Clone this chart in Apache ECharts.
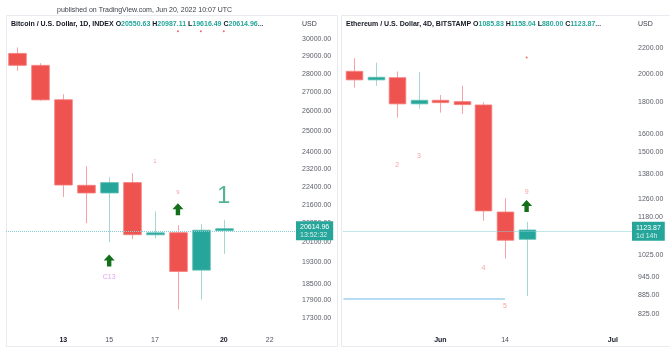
<!DOCTYPE html>
<html>
<head>
<meta charset="utf-8">
<script src="https://cdn.jsdelivr.net/npm/echarts/dist/echarts.min.js"></script>
<style>
  html, body { margin: 0; padding: 0; background: #ffffff; }
  #chart { width: 670px; height: 349px; }
</style>
</head>
<body>
<div id="chart"></div>
<script>
// ---- Bitcoin, daily candles (Jun 11 – Jun 20, 2022) ----
const btcDates  = ['11', '12', '13', '14', '15', '16', '17', '18', '19', '20'];
const btcOpen   = [29160, 28480, 26610, 22470, 22130, 22590, 20380, 20460, 19000, 20550.63];
const btcHigh   = [29510, 28600, 26900, 23330, 22830, 23010, 21340, 20760, 20810, 20987.11];
const btcLow    = [28170, 26560, 21950, 20850, 20080, 20200, 20230, 17580, 17930, 19616.49];
const btcClose  = [28480, 26600, 22480, 22130, 22590, 20380, 20450, 18950, 20560, 20614.96];
const btcTickIdx  = [2, 4, 6, 9, 11];
const btcTickText = ['13', '15', '17', '20', '22'];
const btcTickBold = [true, false, false, true, false];
const btcPriceTicks = [30000, 29000, 28000, 27000, 26000, 25000, 24000, 23200, 22400,
                       21600, 20850, 20100, 19300, 18500, 17900, 17300];
const btcCountdown  = '13:52:32';
// sequential-count annotations
const btcCountIdx   = [6, 7];
const btcCountLevel = [23560, 22160];
const btcCountText  = ['1', '9'];
const btcSignalIdx   = [9];
const btcSignalLevel = [22000];
const btcSignalText  = ['1'];
const btcArrowIdx   = [7, 4];
const btcArrowLevel = [21430, 19370];
const btcSetupIdx   = [4];
const btcSetupLevel = [18760];
const btcSetupText  = ['C13'];
const btcDotIdx   = [7, 8, 9];
const btcDotLevel = [30460, 30460, 30460];

// ---- Ethereum, 4-day candles (May 17 – Jun 18, 2022) ----
const ethDates  = ['May 17', 'May 21', 'May 25', 'May 29', 'Jun 2', 'Jun 6', 'Jun 10', 'Jun 14', 'Jun 18'];
const ethOpen   = [2020, 1957, 1973, 1791, 1815, 1806, 1784, 1201, 1085.83];
const ethHigh   = [2120, 2086, 2018, 2016, 1851, 1916, 1802, 1264, 1158.04];
const ethLow    = [1902, 1914, 1702, 1760, 1734, 1726, 1163, 1011, 880.00];
const ethClose  = [1957, 1976, 1791, 1815, 1799, 1786, 1206, 1082, 1123.87];
const ethTickIdx  = [4, 7, 12];
const ethTickText = ['Jun', '14', 'Jul'];
const ethTickBold = [true, false, true];
const ethPriceTicks = [2200, 2000, 1800, 1600, 1500, 1380, 1260, 1180, 1025, 945, 885, 825];
const ethCountdown  = '1d 14h';
const ethCountIdx   = [2, 3, 6, 7, 8];
const ethCountLevel = [1428, 1476, 975, 848, 1295];
const ethCountText  = ['2', '3', '4', '5', '9'];
const ethArrowIdx   = [8];
const ethArrowLevel = [1228];
const ethDotIdx   = [8];
const ethDotLevel = [2125];
const ethSupportLevel = 871;
const ethSupportEnd   = 7;

// ---- styling ----
const FONT = "'Liberation Sans', Arial, sans-serif";
const UP = '#26a69a', DOWN = '#ef5350';
const UP_WICK = '#a3d8d3', DOWN_WICK = '#f6a3a2';
const ARROW = '#136f19';
const ARROW_PATH = 'path://M5,0 L10,5.5 L7,5.5 L7,11 L3,11 L3,5.5 L0,5.5 Z';

const LN = Math.log;

function candleSeries(ax, opens, highs, lows, closes, countdown) {
  const last = closes.length - 1;
  return {
    type: 'custom',
    xAxisIndex: ax, yAxisIndex: ax,
    z: 3,
    data: opens.map((o, i) => [i, LN(o), LN(closes[i]), LN(lows[i]), LN(highs[i])]),
    renderItem: function (params, api) {
      const i = api.value(0);
      const po = api.coord([i, api.value(1)]);
      const pc = api.coord([i, api.value(2)]);
      const pl = api.coord([i, api.value(3)]);
      const ph = api.coord([i, api.value(4)]);
      const up = api.value(2) >= api.value(1);
      const bw = api.size([1, 0])[0] * 0.77;
      const xc = Math.round(po[0]) + 0.5;
      let top = Math.min(po[1], pc[1]);
      let h = Math.abs(po[1] - pc[1]);
      if (h < 2) { top = (po[1] + pc[1]) / 2 - 1; h = 2; }
      return {
        type: 'group',
        children: [
          { type: 'line', shape: { x1: xc, y1: ph[1], x2: xc, y2: pl[1] },
            style: { stroke: up ? UP_WICK : DOWN_WICK, lineWidth: 1 } },
          { type: 'rect', shape: { x: xc - bw / 2, y: top, width: bw, height: h },
            style: { fill: up ? UP : DOWN, stroke: up ? '#5cbfb5' : '#f47f7c', lineWidth: 0.8 } }
        ]
      };
    },
    markLine: {
      silent: true, animation: false, symbol: ['none', 'none'],
      lineStyle: { color: '#86cdd6', type: [1, 1], width: 1 },
      label: {
        show: true, position: 'end', distance: 0,
        backgroundColor: UP, padding: [2, 4, 1, 4],
        formatter: '{a|' + closes[last].toFixed(2) + '}\n{b|' + countdown + '}',
        rich: {
          a: { color: '#ffffff', fontSize: 7, lineHeight: 8, fontFamily: FONT },
          b: { color: '#d4efec', fontSize: 7, lineHeight: 8, fontFamily: FONT }
        }
      },
      data: [{ yAxis: LN(closes[last]) }]
    }
  };
}

function textMarks(ax, idx, levels, texts, color, size) {
  return {
    type: 'scatter', xAxisIndex: ax, yAxisIndex: ax, z: 4,
    symbolSize: 1, itemStyle: { color: 'rgba(0,0,0,0)' }, silent: true,
    label: { show: true, position: 'inside', color: color, fontSize: size, fontFamily: FONT,
             formatter: p => texts[p.dataIndex] },
    data: idx.map((v, k) => [v, LN(levels[k])])
  };
}

function symbolMarks(ax, idx, levels, symbol, size, color) {
  return {
    type: 'scatter', xAxisIndex: ax, yAxisIndex: ax, z: 4, silent: true,
    symbol: symbol, symbolSize: size, itemStyle: { color: color, opacity: 1 },
    data: idx.map((v, k) => [v, LN(levels[k])])
  };
}

function xAxisFor(grid, max, ticks, texts, bold) {
  return {
    type: 'value', gridIndex: grid, min: -0.5, max: max,
    axisLine: { show: false }, axisTick: { show: false }, splitLine: { show: false },
    axisLabel: {
      customValues: ticks, margin: 7, fontSize: 7, fontFamily: FONT,
      formatter: v => {
        const k = ticks.indexOf(Math.round(v));
        return k < 0 ? '' : (bold[k] ? '{b|' + texts[k] + '}' : '{n|' + texts[k] + '}');
      },
      rich: {
        b: { fontSize: 7, fontWeight: 'bold', color: '#131722', fontFamily: FONT },
        n: { fontSize: 7, color: '#50535e', fontFamily: FONT }
      }
    }
  };
}

function yAxisFor(grid, lo, hi, ticks) {
  return {
    type: 'value', gridIndex: grid, position: 'right', min: LN(lo), max: LN(hi),
    axisLine: { show: false }, axisTick: { show: false }, splitLine: { show: false },
    axisLabel: {
      customValues: ticks.map(LN), margin: 6, fontSize: 7, color: '#5d606b', fontFamily: FONT,
      formatter: v => Math.round(Math.exp(v)).toFixed(2)
    }
  };
}

function ohlcTitle(name, o, h, l, c) {
  return '{t|' + name + '} {k|O}{v|' + o.toFixed(2) + '} {k|H}{v|' + h.toFixed(2) +
         '} {k|L}{v|' + l.toFixed(2) + '} {k|C}{v|' + c.toFixed(2) + '}{e|...}';
}
const titleRich = {
  t: { color: '#131722', fontSize: 7, fontFamily: FONT },
  k: { color: '#131722', fontSize: 7, fontFamily: FONT },
  v: { color: '#26a69a', fontSize: 7, fontFamily: FONT },
  e: { color: '#50535e', fontSize: 7, fontFamily: FONT }
};

const bl = btcClose.length - 1, el = ethClose.length - 1;

// ethereum support level drawn as a segment ending at the breakdown candle
const ethSeries = candleSeries(1, ethOpen, ethHigh, ethLow, ethClose, ethCountdown);
ethSeries.markLine.data.push([
  { coord: [-0.5, LN(ethSupportLevel)], lineStyle: { color: '#b5dcf2', type: 'solid', width: 2 },
    label: { show: false } },
  { coord: [ethSupportEnd, LN(ethSupportLevel)] }
]);

const chart = echarts.init(document.getElementById('chart'), null, { renderer: 'canvas' });
chart.setOption({
  animation: false,
  backgroundColor: '#ffffff',
  title: [
    { text: ohlcTitle('Bitcoin / U.S. Dollar, 1D, INDEX', btcOpen[bl], btcHigh[bl], btcLow[bl], btcClose[bl]),
      left: 11, top: 21, padding: 0, textStyle: { rich: titleRich, fontSize: 7 } },
    { text: ohlcTitle('Ethereum / U.S. Dollar, 4D, BITSTAMP', ethOpen[el], ethHigh[el], ethLow[el], ethClose[el]),
      left: 346, top: 21, padding: 0, textStyle: { rich: titleRich, fontSize: 7 } }
  ],
  graphic: [
    { type: 'text', left: 57, top: 7, z: 10,
      style: { text: 'published on TradingView.com, Jun 20, 2022 10:07 UTC', fill: '#3b3e48',
               font: '7px ' + FONT } },
    { type: 'rect', shape: { x: 6.5, y: 15.5, width: 331, height: 331 },
      style: { fill: 'none', stroke: '#e8eaef', lineWidth: 1 }, z: -1 },
    { type: 'rect', shape: { x: 341.5, y: 15.5, width: 330, height: 331 },
      style: { fill: 'none', stroke: '#e8eaef', lineWidth: 1 }, z: -1 },
    { type: 'text', x: 302, y: 21, style: { text: 'USD', fill: '#3b3e48', font: '7px ' + FONT } },
    { type: 'text', x: 638, y: 21, style: { text: 'USD', fill: '#3b3e48', font: '7px ' + FONT } }
  ],
  grid: [
    { left: 6, top: 17, width: 290, height: 313 },
    { left: 343.4, top: 17, width: 288.6, height: 313 }
  ],
  xAxis: [
    xAxisFor(0, 12.15, btcTickIdx, btcTickText, btcTickBold),
    xAxisFor(1, 12.89, ethTickIdx, ethTickText, ethTickBold)
  ],
  yAxis: [
    yAxisFor(0, 16880, 31336, btcPriceTicks),
    yAxisFor(1, 776.6, 2469, ethPriceTicks)
  ],
  series: [
    candleSeries(0, btcOpen, btcHigh, btcLow, btcClose, btcCountdown),
    textMarks(0, btcCountIdx, btcCountLevel, btcCountText, '#f28c8a', 6),
    textMarks(0, btcSignalIdx, btcSignalLevel, btcSignalText, '#28a07a', 24),
    textMarks(0, btcSetupIdx, btcSetupLevel, btcSetupText, '#d48ef0', 7),
    symbolMarks(0, btcArrowIdx, btcArrowLevel, ARROW_PATH, [11, 12], ARROW),
    symbolMarks(0, btcDotIdx, btcDotLevel, 'circle', 2, '#f06b6b'),
    ethSeries,
    textMarks(1, ethCountIdx, ethCountLevel, ethCountText, '#f28c8a', 7),
    symbolMarks(1, ethArrowIdx, ethArrowLevel, ARROW_PATH, [11, 12], ARROW),
    symbolMarks(1, ethDotIdx, ethDotLevel, 'circle', 2, '#f06b6b')
  ]
});
</script>
</body>
</html>
